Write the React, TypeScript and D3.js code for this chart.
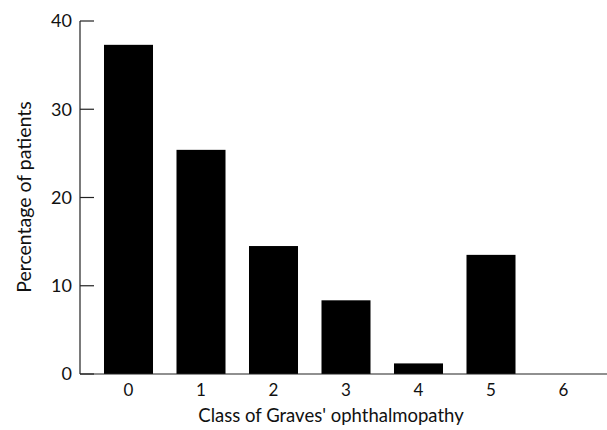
import React from "react";
import * as d3 from "d3";

const categories = ["0", "1", "2", "3", "4", "5", "6"];
const percentages = [37.3, 25.4, 14.5, 8.35, 1.2, 13.5, 0];
const yTicks = [0, 10, 20, 30, 40];
const xTitle = "Class of Graves' ophthalmopathy";
const yTitle = "Percentage of patients";

const W = 607;
const H = 430;
const FONT = "Lato, 'Noto Sans', sans-serif";

export default function App() {
  const x = d3
    .scaleBand<string>()
    .domain(categories)
    .range([92.25, 599.75])
    .paddingInner(0.324)
    .paddingOuter(0.162);
  const y = d3.scaleLinear().domain([0, 40]).range([374, 21]);
  const axisX = 80;

  return (
    <svg
      width={W}
      height={H}
      style={{ position: "absolute", left: 0, top: 0, background: "#fff" }}
    >
      {categories.map((c, i) => (
        <rect
          key={c}
          x={x(c)}
          y={y(percentages[i])}
          width={x.bandwidth()}
          height={y(0) - y(percentages[i])}
          fill="#000"
        />
      ))}
      {/* y axis */}
      <line x1={axisX} x2={axisX} y1={y(40)} y2={y(0)} stroke="#222" strokeWidth={1.2} />
      {yTicks.map((t) => (
        <g key={t}>
          <line x1={axisX} x2={axisX + 14} y1={y(t)} y2={y(t)} stroke="#222" strokeWidth={1.2} />
          <text
            x={72}
            y={y(t)}
            dy="0.36em"
            textAnchor="end"
            fontFamily={FONT}
            fontSize={18}
            fill="#111"
          >
            {t}
          </text>
        </g>
      ))}
      {/* x axis */}
      <line x1={axisX} x2={W} y1={y(0)} y2={y(0)} stroke="#222" strokeWidth={1.2} />
      {categories.map((c) => (
        <text
          key={c}
          x={(x(c) as number) + x.bandwidth() / 2}
          y={396}
          textAnchor="middle"
          fontFamily={FONT}
          fontSize={17}
          fill="#111"
        >
          {c}
        </text>
      ))}
      <text
        x={331}
        y={422}
        textAnchor="middle"
        fontFamily={FONT}
        fontSize={18.5}
        fill="#111"
      >
        {xTitle}
      </text>
      <text
        transform={`translate(31,197) rotate(-90)`}
        textAnchor="middle"
        fontFamily={FONT}
        fontSize={19.5}
        fill="#111"
      >
        {yTitle}
      </text>
    </svg>
  );
}
